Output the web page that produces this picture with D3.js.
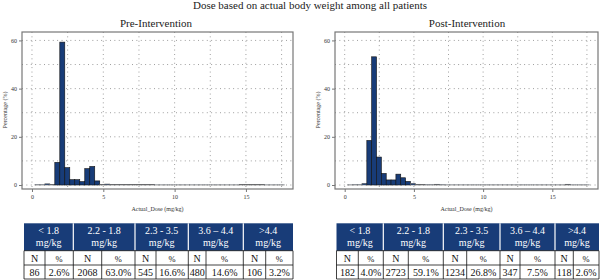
<!DOCTYPE html>
<html><head><meta charset="utf-8">
<script src="https://cdn.jsdelivr.net/npm/d3@7"></script>
<style>body{margin:0;background:#fff}svg{display:block}svg text{font-family:"Liberation Serif","DejaVu Serif",serif}</style>
</head><body>
<svg id="c" width="604" height="280"></svg>
<script>
const title = "Dose based on actual body weight among all patients";
const panelTitles = ["Pre-Intervention", "Post-Intervention"];
const binStart = 0.2, binWidth = 0.35;
const preValues = [0.1,0.1,0.5,0.2,9.4,59.3,7.2,2.2,2.2,1.4,6.8,7.7,1.7,0.2,0.4,0.2,0.2,0.2,0.2,0.2,0.2,0.2,0.2,0.2,0.05,0.05,0.05,0.05,0.05,0.05,0.05,0.05,0.05,0.05,0.05,0.05,0.05,0.05,0.05,0.05,0.05,0.15,0.15,0.15,0.15,0.15,0.05,0.05,0.05,0.05];
const postValues = [0.05,0.1,0.1,0.7,18.5,53.2,11.6,4.8,2.1,2.1,4.5,3.0,1.5,0.7,0.3,0.2,0.1,0.1,0.3,0.1,0.05,0.05,0.05,0.05,0.05,0.05,0.05,0.05,0.05,0.05,0.05,0.05,0.05,0.05,0.05,0.05,0.05,0.05,0.05,0.05,0.05,0.05,0.05,0.05,0.05,0.3,0.05,0.05,0.05,0.05];
const xTicks = [0,5,10,15];
const yTicks = [0,20,40,60];
const xGrid = [0,2.5,5,7.5,10,12.5,15,17.5];
const yGrid = [0,10,20,30,40,50,60];
const xLabel = "Actual_Dose (mg/kg)";
const yLabel = "Percentage (%)";
const groupLabels = ["< 1.8", "2.2 - 1.8", "2.3 - 3.5", "3.6 \u2013 4.4", ">4.4"];
const unitLabel = "mg/kg";
const preN = ["86","2068","545","480","106"];
const prePct = ["2.6%","63.0%","16.6%","14.6%","3.2%"];
const postN = ["182","2723","1234","347","118"];
const postPct = ["4.0%","59.1%","26.8%","7.5%","2.6%"];

const svg = d3.select("#c");
const navy = "#183c78";

svg.append("text").attr("x",310).attr("y",9).attr("text-anchor","middle")
  .attr("font-size",11).attr("fill","#222").text(title);

const panels = [
  {x0:22,x1:293,title:panelTitles[0],tx:156,vals:preValues,
   tab:{sub:[45,101.7,156,206,265.7],cols:[24,73.3,135,188.3,243.3,293],N:preN,P:prePct}},
  {x0:335,x1:598,title:panelTitles[1],tx:467,vals:postValues,
   tab:{sub:[358.3,408.3,466.7,520,573.3],cols:[336.5,383.3,443.3,500,555,599],N:postN,P:postPct}}
];
const yTop = 32, yBot = 189;

panels.forEach(p => {
  const g = svg.append("g");
  const x = d3.scaleLinear().domain([-0.7,18.3]).range([p.x0,p.x1]);
  const y = d3.scaleLinear().domain([-1.66,63.5]).range([yBot,yTop]);
  g.append("text").attr("x",p.tx).attr("y",27).attr("text-anchor","middle")
    .attr("font-size",11).attr("fill","#222").text(p.title);
  g.selectAll(".gy").data(yGrid).join("line")
    .attr("x1",p.x0).attr("x2",p.x1).attr("y1",d=>y(d)).attr("y2",d=>y(d))
    .attr("stroke","#888").attr("stroke-width",0.9).attr("stroke-dasharray","0.9,3.5");
  g.selectAll(".gx").data(xGrid).join("line")
    .attr("y1",yTop).attr("y2",yBot).attr("x1",d=>x(d)).attr("x2",d=>x(d))
    .attr("stroke","#888").attr("stroke-width",0.9).attr("stroke-dasharray","0.9,3.5");
  const bins = p.vals.map((v,i)=>({a:binStart+i*binWidth,b:binStart+(i+1)*binWidth,v}));
  g.selectAll(".bar").data(bins).join("rect")
    .attr("x",d=>x(d.a)).attr("width",d=>x(d.b)-x(d.a))
    .attr("y",d=>y(d.v)).attr("height",d=>y(0)-y(d.v))
    .attr("fill",navy).attr("stroke",d=>d.v<1?"#666":"#111").attr("stroke-width",0.6);
  g.append("rect").attr("x",p.x0).attr("y",yTop).attr("width",p.x1-p.x0).attr("height",yBot-yTop)
    .attr("fill","none").attr("stroke","#777").attr("stroke-width",1.2);
  const ya = d3.axisLeft(y).tickValues(yTicks).tickSize(3).tickPadding(2);
  const yg = g.append("g").attr("transform",`translate(${p.x0},0)`).call(ya);
  const xa = d3.axisBottom(x).tickValues(xTicks).tickSize(3).tickPadding(3);
  const xg = g.append("g").attr("transform",`translate(0,${yBot})`).call(xa);
  [yg,xg].forEach(a=>{a.select(".domain").remove();
    a.selectAll("line").attr("stroke","#777");
    a.selectAll("text").attr("font-size",6).attr("fill","#333");});
  yg.attr("font-family",null); xg.attr("font-family",null);
  g.append("text").attr("x",(p.x0+p.x1)/2).attr("y",211).attr("text-anchor","middle")
    .attr("font-size",6).attr("fill","#333").text(xLabel);
  g.append("text").attr("transform",`translate(${p.x0-15},110) rotate(-90)`).attr("text-anchor","middle")
    .attr("font-size",6).attr("fill","#333").text(yLabel);

  const t = p.tab;
  const hTop = 223.3, hBot = 250.7, r1 = 265, r2 = 279;
  const tg = svg.append("g");
  tg.append("rect").attr("x",t.cols[0]).attr("y",hTop).attr("width",t.cols[5]-t.cols[0]).attr("height",hBot-hTop).attr("fill",navy);
  groupLabels.forEach((lab,i)=>{
    const cx = (t.cols[i]+t.cols[i+1])/2;
    tg.append("text").attr("x",cx).attr("y",234).attr("text-anchor","middle")
      .attr("font-size",10).attr("fill","#fff").text(lab);
    tg.append("text").attr("x",cx).attr("y",246).attr("text-anchor","middle")
      .attr("font-size",10).attr("fill","#fff").text(unitLabel);
    if(i>0) tg.append("line").attr("x1",t.cols[i]).attr("x2",t.cols[i]).attr("y1",hTop).attr("y2",hBot)
      .attr("stroke","#fff").attr("stroke-width",1.2);
    const sx = t.sub[i];
    tg.append("text").attr("x",(t.cols[i]+sx)/2).attr("y",262).attr("text-anchor","middle")
      .attr("font-size",10).attr("fill","#111").text("N");
    tg.append("text").attr("x",(sx+t.cols[i+1])/2).attr("y",262).attr("text-anchor","middle")
      .attr("font-size",8.5).attr("fill","#111").text("%");
    tg.append("text").attr("x",(t.cols[i]+sx)/2).attr("y",276).attr("text-anchor","middle")
      .attr("font-size",10).attr("fill","#111").text(t.N[i]);
    tg.append("text").attr("x",(sx+t.cols[i+1])/2).attr("y",276).attr("text-anchor","middle")
      .attr("font-size",10).attr("fill","#111").text(t.P[i]);
  });
  const vlines = t.cols.concat(t.sub);
  tg.selectAll(".vl").data(vlines).join("line").attr("x1",d=>d).attr("x2",d=>d).attr("y1",hBot).attr("y2",r2)
    .attr("stroke","#111").attr("stroke-width",0.8);
  tg.selectAll(".hl").data([hBot,r1,r2]).join("line").attr("x1",t.cols[0]).attr("x2",t.cols[5]).attr("y1",d=>d).attr("y2",d=>d)
    .attr("stroke","#111").attr("stroke-width",0.8);
});
</script>
</body></html>
